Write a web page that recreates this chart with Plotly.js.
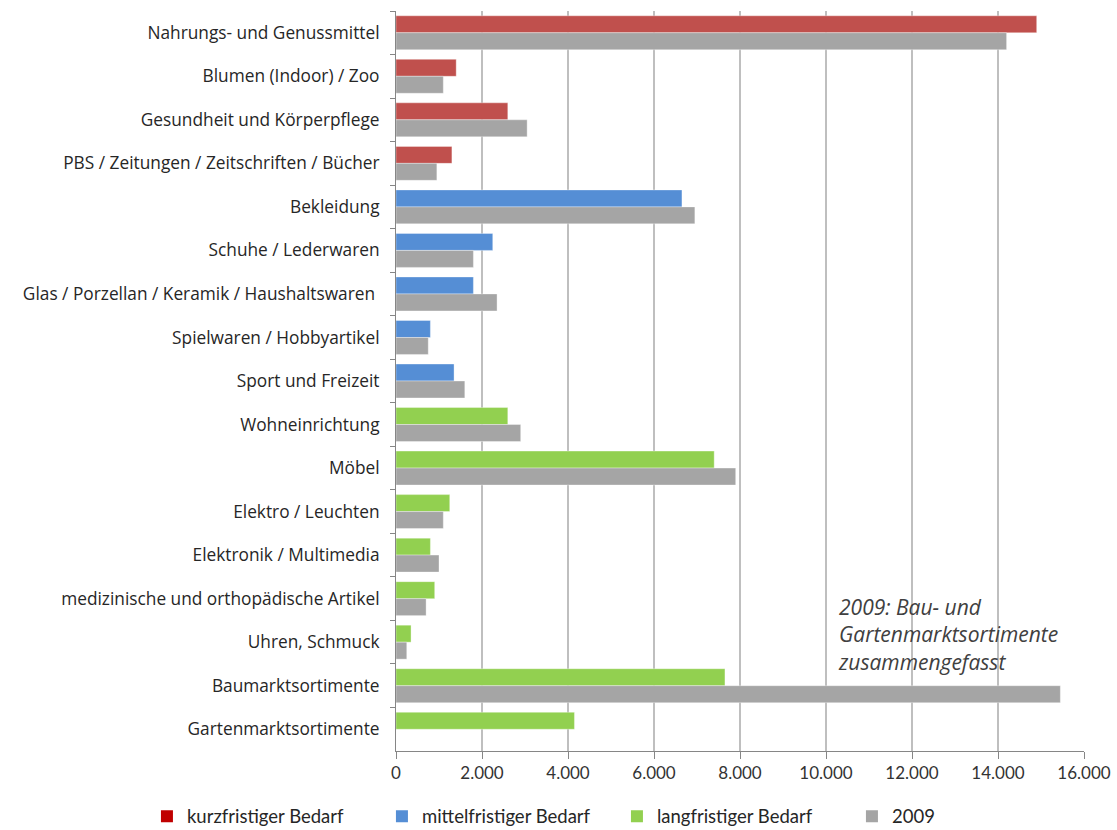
<!DOCTYPE html>
<html>
<head>
<meta charset="utf-8">
<script src="https://cdn.plot.ly/plotly-3.0.1.min.js"></script>
<style>html,body{margin:0;padding:0;background:#fff;}#chart{width:1117px;height:830px;}</style>
</head>
<body>
<div id="chart"></div>
<script>
// Categories (top to bottom)
var categories = [
  "Nahrungs- und Genussmittel",
  "Blumen (Indoor) / Zoo",
  "Gesundheit und Körperpflege",
  "PBS / Zeitungen / Zeitschriften / Bücher",
  "Bekleidung",
  "Schuhe / Lederwaren",
  "Glas / Porzellan / Keramik / Haushaltswaren ",
  "Spielwaren / Hobbyartikel",
  "Sport und Freizeit",
  "Wohneinrichtung",
  "Möbel",
  "Elektro / Leuchten",
  "Elektronik / Multimedia",
  "medizinische und orthopädische Artikel",
  "Uhren, Schmuck",
  "Baumarktsortimente",
  "Gartenmarktsortimente"
];

// kurzfristiger Bedarf
var kurzCats = ["Nahrungs- und Genussmittel", "Blumen (Indoor) / Zoo", "Gesundheit und Körperpflege", "PBS / Zeitungen / Zeitschriften / Bücher"];
var kurzVals = [14900, 1400, 2600, 1300];

// mittelfristiger Bedarf
var mittelCats = ["Bekleidung", "Schuhe / Lederwaren", "Glas / Porzellan / Keramik / Haushaltswaren ", "Spielwaren / Hobbyartikel", "Sport und Freizeit"];
var mittelVals = [6650, 2250, 1800, 800, 1350];

// langfristiger Bedarf
var langCats = ["Wohneinrichtung", "Möbel", "Elektro / Leuchten", "Elektronik / Multimedia", "medizinische und orthopädische Artikel", "Uhren, Schmuck", "Baumarktsortimente", "Gartenmarktsortimente"];
var langVals = [2600, 7400, 1250, 800, 900, 350, 7650, 4150];

// 2009
var cats2009 = ["Nahrungs- und Genussmittel", "Blumen (Indoor) / Zoo", "Gesundheit und Körperpflege", "PBS / Zeitungen / Zeitschriften / Bücher", "Bekleidung", "Schuhe / Lederwaren", "Glas / Porzellan / Keramik / Haushaltswaren ", "Spielwaren / Hobbyartikel", "Sport und Freizeit", "Wohneinrichtung", "Möbel", "Elektro / Leuchten", "Elektronik / Multimedia", "medizinische und orthopädische Artikel", "Uhren, Schmuck", "Baumarktsortimente"];
var vals2009 = [14200, 1100, 3050, 950, 6950, 1800, 2350, 750, 1600, 2900, 7900, 1100, 1000, 700, 250, 15450];

var tickVals = [0, 2000, 4000, 6000, 8000, 10000, 12000, 14000, 16000];
var tickText = ["0", "2.000", "4.000", "6.000", "8.000", "10.000", "12.000", "14.000", "16.000"];

var legendNames = ["kurzfristiger Bedarf", "mittelfristiger Bedarf", "langfristiger Bedarf", "2009"];
var legendColors = ["#C00000", "#558ED5", "#92D050", "#A5A5A5"];

var W = 0.39;
function barTrace(cats, vals, color, off) {
  return {
    type: "bar", orientation: "h", y: cats, x: vals,
    offset: off, width: W,
    marker: {color: color, line: {color: "rgba(255,255,255,0.35)", width: 1}},
    showlegend: false, hoverinfo: "x+y"
  };
}

var data = [
  barTrace(kurzCats, kurzVals, "#C0504D", -W),
  barTrace(mittelCats, mittelVals, "#558ED5", -W),
  barTrace(langCats, langVals, "#92D050", -W),
  barTrace(cats2009, vals2009, "#A5A5A5", 0)
];
legendNames.forEach(function (n, i) {
  data.push({type: "bar", orientation: "h", x: [null], y: [null], name: n,
    marker: {color: legendColors[i]}, showlegend: true, hoverinfo: "skip"});
});

var layout = {
  width: 1117, height: 830,
  margin: {l: 396, r: 33, t: 11, b: 79, autoexpand: false},
  paper_bgcolor: "#fff", plot_bgcolor: "#fff",
  barmode: "overlay",
  font: {family: "Lato, 'Open Sans', sans-serif", color: "#333"},
  xaxis: {
    range: [0, 16000], tickvals: tickVals, ticktext: tickText,
    showgrid: true, gridcolor: "#BFBFBF", gridwidth: 1.5,
    zeroline: false, showline: true, linecolor: "#868686", linewidth: 1,
    ticks: "outside", ticklen: 7, tickcolor: "#868686",
    tickfont: {family: "Lato, sans-serif", size: 17, color: "#333"},
    fixedrange: true, automargin: false
  },
  yaxis: {
    type: "category", categoryorder: "array", categoryarray: categories,
    range: [categories.length - 0.5, -0.5],
    showline: true, linecolor: "#868686", linewidth: 1,
    ticks: "outside", tickson: "boundaries", ticklen: 5, tickcolor: "#868686",
    ticklabelstandoff: 12,
    showgrid: false, zeroline: false,
    tickfont: {family: "'Open Sans', sans-serif", size: 17.3, color: "#262626"},
    fixedrange: true, automargin: false
  },
  legend: {
    orientation: "h", x: -0.362, xanchor: "left", y: -0.063, yanchor: "top",
    entrywidth: 190, entrywidthmode: "pixels",
    font: {family: "Lato, sans-serif", size: 18.5, color: "#262626"},
    traceorder: "normal", itemwidth: 30
  },
  annotations: [{
    xref: "x", yref: "paper", x: 10230, y: 0.216, xanchor: "left", yanchor: "top",
    align: "left", showarrow: false,
    text: "<i>2009: Bau- und<br>Gartenmarktsortimente<br>zusammengefasst</i>",
    font: {family: "'Open Sans', sans-serif", size: 21, color: "#404040"}
  }]
};

Plotly.newPlot("chart", data, layout, {displayModeBar: false, staticPlot: true});
</script>
</body>
</html>
